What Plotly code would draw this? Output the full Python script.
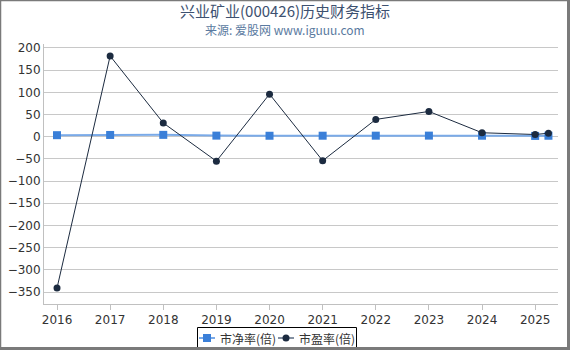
import plotly.graph_objects as go

years = [2016, 2017, 2018, 2019, 2020, 2021, 2022, 2023, 2024, 2025, 2025.25]
pb = [3.5, 4.0, 4.2, 2.5, 2.2, 2.3, 2.4, 2.5, 2.3, 1.8, 2.2]
pe = [-341, 182, 31, -55, 96, -54, 39, 57, 9, 5, 8]
year_ticks = [2016, 2017, 2018, 2019, 2020, 2021, 2022, 2023, 2024, 2025]
y_ticks = [200, 150, 100, 50, 0, -50, -100, -150, -200, -250, -300, -350]
series_names = ["市净率(倍)", "市盈率(倍)"]

FONT = "DejaVu Sans, Noto Sans CJK SC, sans-serif"
CJK = "Noto Sans CJK SC, DejaVu Sans"
W, H = 570, 350
ML, MR, MT, MB = 44, 12, 44, 46
PW, PH = W - ML - MR, H - MT - MB
PB_LINE, PB_MARK = "#7aaae8", "#3a7fd8"
PE_COL = "#1c2b40"


def px(x):
    return (x - ML) / PW


def py(y):
    return (H - MB - y) / PH


fig = go.Figure()
fig.add_trace(go.Scatter(
    x=years, y=pb, name=series_names[0], mode="lines+markers",
    line=dict(color=PB_LINE, width=2),
    marker=dict(symbol="square", size=8, color=PB_MARK),
))
fig.add_trace(go.Scatter(
    x=years, y=pe, name=series_names[1], mode="lines+markers",
    line=dict(color=PE_COL, width=1),
    marker=dict(symbol="circle", size=7, color=PE_COL),
))

fig.update_layout(
    width=W, height=H,
    margin=dict(l=ML, r=MR, t=MT, b=MB, autoexpand=False),
    paper_bgcolor="white", plot_bgcolor="white",
    font=dict(family=FONT, size=12, color="#333333"),
    showlegend=False,
    xaxis=dict(
        range=[2015.755, 2025.43], tickmode="array", tickvals=year_ticks,
        ticktext=[str(y) for y in year_ticks],
        showgrid=False, zeroline=False, showline=True, linecolor="#c0c0c0",
        ticks="outside", ticklen=5, tickcolor="#c0c0c0",
        tickfont=dict(size=12, color="#333333"),
    ),
    yaxis=dict(
        range=[-377, 209], tickmode="array", tickvals=y_ticks,
        showgrid=True, gridcolor="#c8c8c8", zeroline=False,
        showline=True, linecolor="#c0c0c0",
        tickfont=dict(size=12, color="#333333"),
    ),
)

fig.add_annotation(
    text="兴业矿业(000426)历史财务指标", xref="paper", yref="paper",
    x=px(285), y=py(10), xanchor="center", yanchor="middle", showarrow=False,
    font=dict(size=15, color="#3d5170", family=CJK),
)
fig.add_annotation(
    text="来源: 爱股网 www.iguuu.com", xref="paper", yref="paper",
    x=px(285), y=py(29.5), xanchor="center", yanchor="middle", showarrow=False,
    font=dict(size=12, color="#5a7aa0", family=CJK),
)

# legend box
fig.add_shape(type="rect", xref="paper", yref="paper",
              x0=px(197.5), x1=px(356.5), y0=py(327.5), y1=py(348.5),
              line=dict(color="#000000", width=1), fillcolor="white", layer="above")
LY = 338
# item 1
fig.add_shape(type="line", xref="paper", yref="paper",
              x0=px(199), x1=px(215), y0=py(LY), y1=py(LY),
              line=dict(color=PB_LINE, width=2), layer="above")
fig.add_shape(type="rect", xref="paper", yref="paper",
              x0=px(203), x1=px(211), y0=py(LY - 4), y1=py(LY + 4),
              line=dict(width=0), fillcolor=PB_MARK, layer="above")
fig.add_annotation(text=series_names[0], xref="paper", yref="paper",
                   x=px(218), y=py(LY), xanchor="left", yanchor="middle",
                   showarrow=False, font=dict(size=12, color="#333333", family=CJK))
# item 2
fig.add_shape(type="line", xref="paper", yref="paper",
              x0=px(278), x1=px(294), y0=py(LY), y1=py(LY),
              line=dict(color="#5a6a80", width=1.5), layer="above")
fig.add_shape(type="circle", xref="paper", yref="paper",
              x0=px(282.5), x1=px(289.5), y0=py(LY - 3.5), y1=py(LY + 3.5),
              line=dict(width=0), fillcolor=PE_COL, layer="above")
fig.add_annotation(text=series_names[1], xref="paper", yref="paper",
                   x=px(297), y=py(LY), xanchor="left", yanchor="middle",
                   showarrow=False, font=dict(size=12, color="#333333", family=CJK))

# frame
frame = [
    (0.5, 0, 0.5, 350, 1.5),
    (0, 0.5, 570, 0.5, 1.5),
    (568.5, 0, 568.5, 350, 3),
    (0, 348.5, 570, 348.5, 3),
]
for x0, y0, x1, y1, w in frame:
    fig.add_shape(type="line", xref="paper", yref="paper",
                  x0=px(x0), y0=py(y0), x1=px(x1), y1=py(y1),
                  line=dict(color="#7a7a7a", width=w), layer="above")

fig.write_html("out.html")
